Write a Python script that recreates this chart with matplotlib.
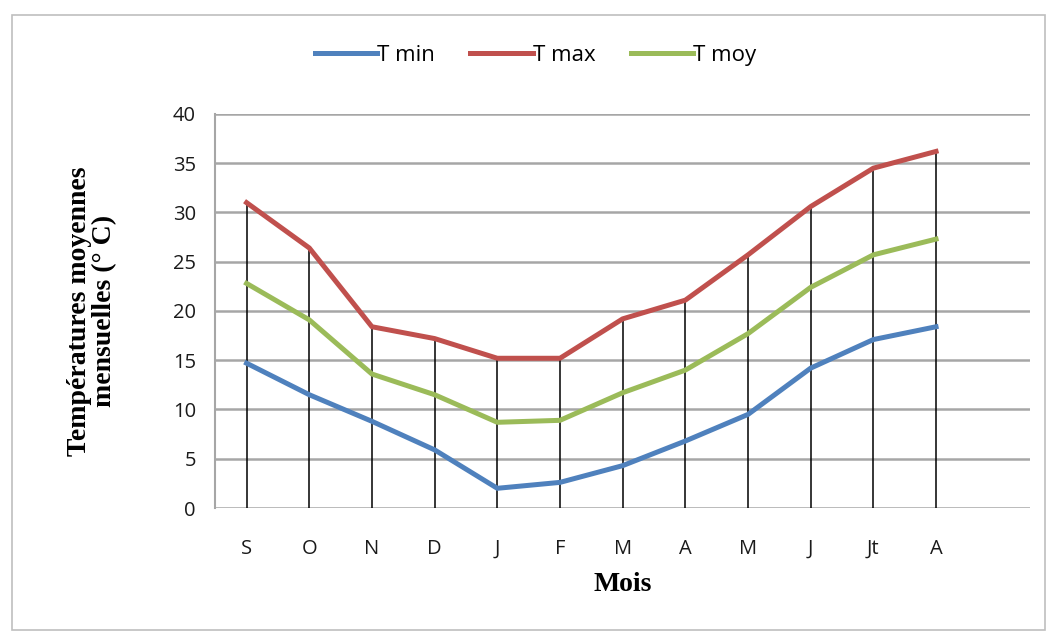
import matplotlib.pyplot as plt
from matplotlib.patches import Rectangle
import numpy as np

months = ['S', 'O', 'N', 'D', 'J', 'F', 'M', 'A', 'M', 'J', 'Jt', 'A']
t_min = [14.7, 11.5, 8.8, 5.9, 2.0, 2.6, 4.3, 6.8, 9.5, 14.2, 17.1, 18.4]
t_max = [31.0, 26.4, 18.4, 17.2, 15.2, 15.2, 19.2, 21.1, 25.7, 30.6, 34.5, 36.2]
t_moy = [22.8, 19.1, 13.6, 11.5, 8.7, 8.9, 11.7, 14.0, 17.7, 22.4, 25.7, 27.3]

x = np.arange(len(months))

fig = plt.figure(figsize=(10.5, 6.35), dpi=100)
ax = fig.add_axes([0.205, 0.2, 0.776, 0.6205])

# outer frame of the chart area
fig.patches.append(Rectangle((0.011, 0.008), 0.984, 0.968, transform=fig.transFigure,
                             fill=False, edgecolor='#bfbfbf', lw=1.2))

# drop lines from 0 up to T max
ax.vlines(x, 0, t_max, color='black', lw=1.1, zorder=2)

ax.plot(x, t_min, color='#4F81BD', lw=3.6, label='T min', zorder=3)
ax.plot(x, t_max, color='#C0504D', lw=3.6, label='T max', zorder=3)
ax.plot(x, t_moy, color='#9BBB59', lw=3.6, label='T moy', zorder=3)

ax.set_xlim(-0.5, len(months) + 0.5)
ax.set_ylim(0, 40)
ax.set_yticks(np.arange(0, 41, 5))
ax.set_xticks(x)
ax.set_xticklabels(months)
ax.grid(axis='y', color='#a6a6a6', lw=1.8, zorder=1)
ax.set_axisbelow(True)

for s in ['top', 'right', 'bottom']:
    ax.spines[s].set_visible(False)
ax.spines['left'].set_color('#a6a6a6')
ax.spines['left'].set_linewidth(1.5)

ax.tick_params(axis='both', length=0, labelsize=14.5, colors='#1a1a1a')
ax.tick_params(axis='y', pad=14)
ax.tick_params(axis='x', pad=22)
for lab in ax.get_xticklabels() + ax.get_yticklabels():
    lab.set_family('Open Sans')

ax.set_xlabel('Mois', fontsize=20, fontweight='bold', family='Liberation Serif', labelpad=10)
ax.set_ylabel('Températures moyennes\nmensuelles (° C)', fontsize=20, fontweight='bold',
              family='Liberation Serif', labelpad=40, linespacing=1.0)

fig.legend(loc='center', bbox_to_anchor=(0.51, 0.913), ncol=3, frameon=False,
           prop={'family': 'Open Sans', 'size': 16}, handlelength=2.8,
           handletextpad=0.0, columnspacing=1.6)

fig.savefig('out.png', dpi=100)
